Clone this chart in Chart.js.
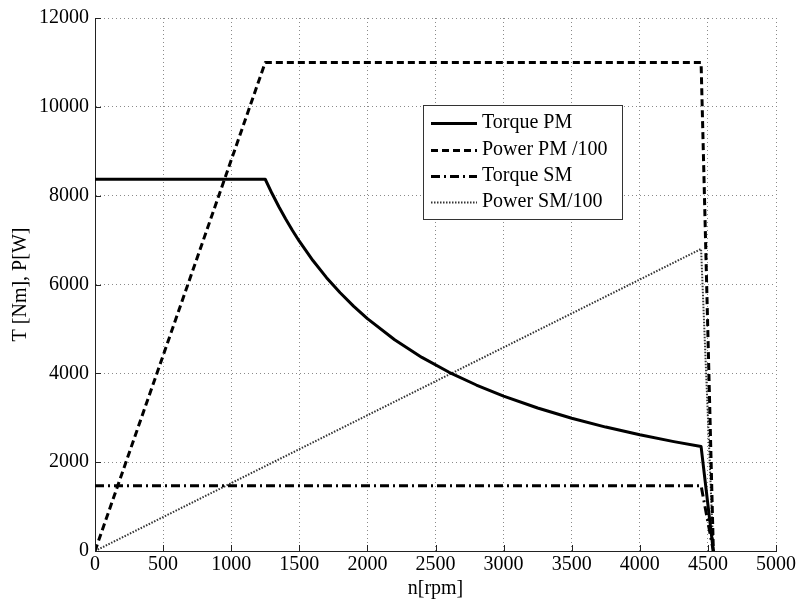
<!DOCTYPE html>
<html>
<head>
<meta charset="utf-8">
<script src="https://cdn.jsdelivr.net/npm/chart.js@4/dist/chart.umd.min.js"></script>
<style>
  html, body { margin: 0; padding: 0; background: #fff; }
  #wrap { width: 799px; height: 609px; }
</style>
</head>
<body>
<div id="wrap"><canvas id="chart"></canvas></div>
<script>
// speed axis ticks / torque-power axis ticks
const xTicks = [0, 500, 1000, 1500, 2000, 2500, 3000, 3500, 4000, 4500, 5000];
const yTicks = [0, 2000, 4000, 6000, 8000, 10000, 12000];

// Torque PM [Nm]
const torquePmRpm = [0, 1250, 1300, 1350, 1400, 1450, 1500, 1600, 1700, 1800, 1900, 2000, 2200, 2400, 2600, 2800, 3000, 3250, 3500, 3750, 4000, 4250, 4450, 4540];
const torquePm    = [8370, 8370, 8048, 7750, 7473, 7216, 6975, 6539, 6154, 5813, 5507, 5231, 4756, 4359, 4024, 3737, 3488, 3219, 2989, 2790, 2616, 2462, 2351, 0];

// Power PM / 100 [W]
const powerPmRpm = [0, 1250, 4450, 4540];
const powerPm    = [0, 11000, 11000, 0];

// Torque SM [Nm]
const torqueSmRpm = [0, 4450, 4540];
const torqueSm    = [1470, 1470, 0];

// Power SM / 100 [W]
const powerSmRpm = [0, 4450, 4540];
const powerSm    = [0, 6800, 0];

const serif = "'Liberation Serif', 'Times New Roman', serif";
const font20 = { family: serif, size: 20 };

function toPoints(xs, ys) {
  return xs.map((x, i) => ({ x: x, y: ys[i] }));
}

// small inward tick marks on left and bottom axes
const inwardTicks = {
  id: 'inwardTicks',
  afterDatasetsDraw(chart) {
    const { ctx, chartArea, scales } = chart;
    ctx.save();
    ctx.strokeStyle = '#222';
    ctx.lineWidth = 1;
    ctx.beginPath();
    xTicks.forEach(v => {
      const px = Math.round(scales.x.getPixelForValue(v)) + 0.5;
      ctx.moveTo(px, chartArea.bottom);
      ctx.lineTo(px, chartArea.bottom - 6);
    });
    yTicks.forEach(v => {
      const py = Math.round(scales.y.getPixelForValue(v)) + 0.5;
      ctx.moveTo(chartArea.left, py);
      ctx.lineTo(chartArea.left + 6, py);
    });
    ctx.stroke();
    ctx.restore();
  }
};

// boxed legend inside the plot
const boxLegend = {
  id: 'boxLegend',
  afterDraw(chart) {
    const ctx = chart.ctx;
    const left = 423, top = 105, w = 199, h = 114;
    ctx.save();
    ctx.fillStyle = '#fff';
    ctx.fillRect(left, top, w, h);
    ctx.strokeStyle = '#333';
    ctx.lineWidth = 1;
    ctx.strokeRect(left + 0.5, top + 0.5, w, h);
    const rows = [123, 150, 176, 202];
    chart.data.datasets.forEach((ds, i) => {
      const y = rows[i] + 0.5;
      ctx.save();
      ctx.strokeStyle = ds.borderColor;
      ctx.lineWidth = ds.borderWidth;
      ctx.setLineDash(ds.borderDash || []);
      ctx.beginPath();
      ctx.moveTo(431, y);
      ctx.lineTo(477, y);
      ctx.stroke();
      ctx.restore();
      ctx.fillStyle = '#000';
      ctx.font = '20px ' + serif;
      ctx.textBaseline = 'middle';
      ctx.textAlign = 'left';
      ctx.fillText(ds.label, 482, rows[i]);
    });
    ctx.restore();
  }
};

const plainNumber = v => String(v);

const ctx = document.getElementById('chart').getContext('2d');
new Chart(ctx, {
  type: 'line',
  data: {
    datasets: [
      {
        label: 'Torque PM',
        data: toPoints(torquePmRpm, torquePm),
        borderColor: '#000',
        borderWidth: 3
      },
      {
        label: 'Power PM /100',
        data: toPoints(powerPmRpm, powerPm),
        borderColor: '#000',
        borderWidth: 3,
        borderDash: [7, 4]
      },
      {
        label: 'Torque SM',
        data: toPoints(torqueSmRpm, torqueSm),
        borderColor: '#000',
        borderWidth: 3,
        borderDash: [9, 4, 2, 4]
      },
      {
        label: 'Power SM/100',
        data: toPoints(powerSmRpm, powerSm),
        borderColor: '#333',
        borderWidth: 2,
        borderDash: [1.5, 1.5]
      }
    ]
  },
  options: {
    responsive: true,
    maintainAspectRatio: false,
    animation: false,
    elements: {
      point: { radius: 0 },
      line: { tension: 0, fill: false, borderJoinStyle: 'round' }
    },
    layout: { padding: { left: 0, right: 23, top: 14, bottom: 0 } },
    plugins: {
      legend: { display: false },
      tooltip: { enabled: false }
    },
    scales: {
      x: {
        type: 'linear',
        min: 0,
        max: 5000,
        afterBuildTicks: s => { s.ticks = xTicks.map(v => ({ value: v })); },
        afterFit: s => { s.height = 58; },
        ticks: { color: '#000', font: font20, padding: 2, maxRotation: 0, autoSkip: false, callback: plainNumber },
        grid: { color: '#8a8a8a', lineWidth: 1, drawTicks: false },
        border: { display: true, color: '#222', width: 1, dash: [1, 3] },
        title: { display: true, text: 'n[rpm]', color: '#000', font: font20, padding: { top: 0, bottom: 8 } }
      },
      y: {
        type: 'linear',
        min: 0,
        max: 12000,
        afterBuildTicks: s => { s.ticks = yTicks.map(v => ({ value: v })); },
        afterFit: s => { s.width = 95; },
        ticks: { color: '#000', font: font20, padding: 6, callback: plainNumber },
        grid: { color: '#8a8a8a', lineWidth: 1, drawTicks: false },
        border: { display: true, color: '#222', width: 1, dash: [1, 3] },
        title: { display: true, text: 'T [Nm], P[W]', color: '#000', font: font20, padding: { top: 9, bottom: 0 } }
      }
    }
  },
  plugins: [inwardTicks, boxLegend]
});
</script>
</body>
</html>
